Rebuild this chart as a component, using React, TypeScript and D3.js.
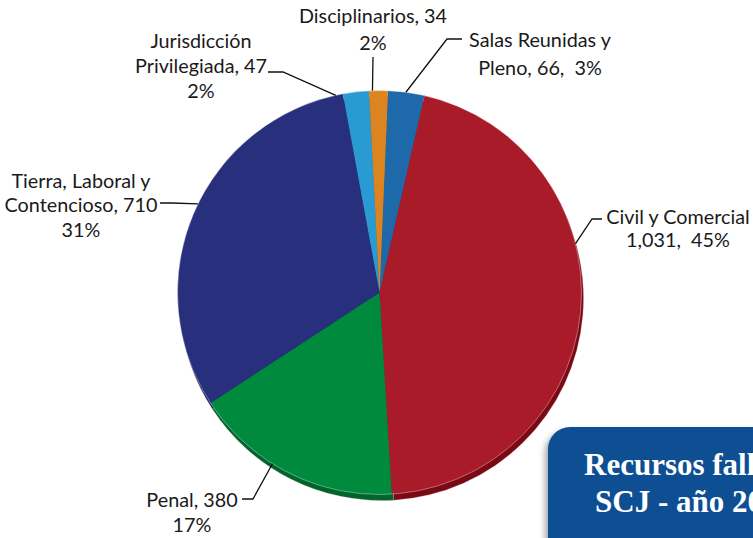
import React from "react";
import * as d3 from "d3";

// data
const categories = [
  "Salas Reunidas y Pleno",
  "Civil y Comercial",
  "Penal",
  "Tierra, Laboral y Contencioso",
  "Jurisdicción Privilegiada",
  "Disciplinarios",
];
const values = [66, 1031, 380, 710, 47, 34];
const percents = ["3%", "45%", "17%", "31%", "2%", "2%"];
const colors = ["#1d69aa", "#aa1b29", "#008a3e", "#28307e", "#2a9bd2", "#dc8520"];
const sideColors = ["#134d80", "#7a0916", "#00652c", "#1a205c", "#1d7099", "#a85f12"];

// label lines (text) for each slice
const labelLines = [
  ["Salas Reunidas y", "Pleno, 66,  3%"],
  ["Civil y Comercial", "1,031,  45%"],
  ["Penal, 380", "17%"],
  ["Tierra, Laboral y", "Contencioso, 710", "31%"],
  ["Jurisdicción", "Privilegiada, 47", "2%"],
  ["Disciplinarios, 34", "2%"],
];
const titleLines = ["Recursos fallados por la", "SCJ - año 2012"];

const W = 753;
const H = 538;
const cx = 379.5;
const cy = 292.5;
const R = 202;
const depth = { dx: 2, dy: 6 };
const startAngle = 0.042;

// label layout: text centre x, baselines, leader (angle on pie edge in degrees, elbow, end)
const labelLayout = [
  { x: 540, ys: [47, 75], edgeDeg: 7.5, elbow: [447, 39], end: [462, 39] },
  { x: 678, ys: [224, 247], edgeDeg: 76, elbow: [592, 219], end: [602, 219] },
  { x: 192, ys: [507, 532], edgeDeg: 212, elbow: [253, 499], end: [242, 499] },
  { x: 81, ys: [188, 212, 237], edgeDeg: 296, elbow: [172, 203], end: [160, 203] },
  { x: 201, ys: [48, 73, 98], edgeDeg: 347.5, elbow: [283, 72], end: [268, 72] },
  { x: 373, ys: [23, 50], edgeDeg: 358, elbow: [373, 57], end: [373, 57] },
];

export default function App() {
  const pie = d3
    .pie<number>()
    .sort(null)
    .startAngle(startAngle)
    .endAngle(startAngle + Math.PI * 2);
  const arcs = pie(values);
  const arc = d3.arc<d3.PieArcDatum<number>>().innerRadius(0).outerRadius(R);

  const edgePoint = (deg: number) => {
    const a = (deg * Math.PI) / 180;
    return [cx + R * Math.sin(a), cy - R * Math.cos(a)];
  };

  return (
    <svg
      width={W}
      height={H}
      style={{ position: "absolute", left: 0, top: 0 }}
      fontFamily="Lato, 'Open Sans', sans-serif"
    >
      <defs>
        <filter id="boxShadow" x="-20%" y="-20%" width="140%" height="140%">
          <feDropShadow dx={-3} dy={4} stdDeviation={3} floodColor="#000" floodOpacity={0.35} />
        </filter>
      </defs>
      <rect width={W} height={H} fill="#fff" />

      {/* extruded side of the pie */}
      <g transform={`translate(${cx + depth.dx},${cy + depth.dy})`}>
        {arcs.map((d, i) => (
          <path key={i} d={arc(d) || ""} fill={sideColors[i]} stroke="#d99aa0" strokeWidth={0.4} strokeOpacity={0.6} />
        ))}
      </g>
      {/* top face */}
      <g transform={`translate(${cx},${cy})`}>
        {arcs.map((d, i) => (
          <path key={i} d={arc(d) || ""} fill={colors[i]} />
        ))}
        <circle r={R} fill="none" stroke="#fff" strokeOpacity={0.45} strokeWidth={0.8} />
      </g>

      {/* leader lines */}
      {labelLayout.map((l, i) => {
        const p = edgePoint(l.edgeDeg);
        const pts = [p, l.elbow, l.end];
        return (
          <polyline
            key={i}
            points={pts.map((q) => q.join(",")).join(" ")}
            fill="none"
            stroke="#111"
            strokeWidth={1.3}
          />
        );
      })}

      {/* labels */}
      {labelLines.map((lines, i) => (
        <text key={i} textAnchor="middle" fontSize={19.8} fill="#1a1a1a" style={{ whiteSpace: "pre" }}>
          {lines.map((t, j) => (
            <tspan key={j} x={labelLayout[i].x} y={labelLayout[i].ys[j]}>
              {t}
            </tspan>
          ))}
        </text>
      ))}

      {/* title box, cut off at the right edge like the source */}
      <rect x={548} y={427} width={260} height={160} rx={22} fill="#0b4f92" filter="url(#boxShadow)" />
      <text fontFamily="'Liberation Serif', 'Times New Roman', serif" fontWeight="bold" fontSize={31} fill="#fff">
        <tspan x={584} y={475}>{titleLines[0]}</tspan>
        <tspan x={595} y={512}>{titleLines[1]}</tspan>
      </text>
    </svg>
  );
}
